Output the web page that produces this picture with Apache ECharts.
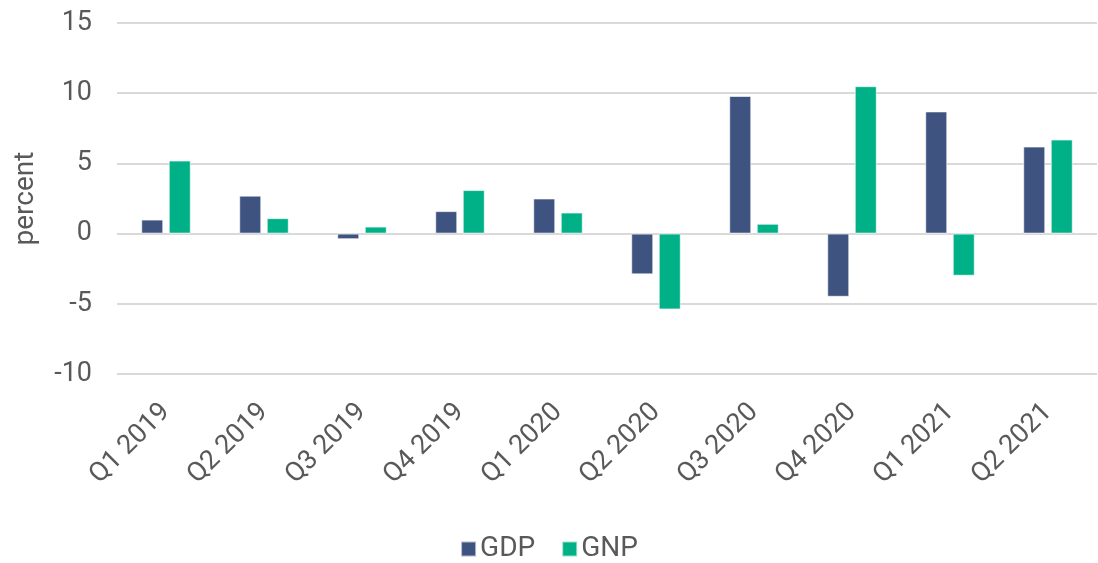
<!DOCTYPE html>
<html>
<head>
<meta charset="utf-8">
<script src="https://cdn.jsdelivr.net/npm/echarts@6/dist/echarts.min.js"></script>
<style>
  html, body { margin: 0; padding: 0; background: #fff; }
  #chart { width: 1098px; height: 563px; }
</style>
</head>
<body>
<div id="chart"></div>
<script>
// quarters on the x axis
const quarters = ['Q1 2019', 'Q2 2019', 'Q3 2019', 'Q4 2019', 'Q1 2020',
  'Q2 2020', 'Q3 2020', 'Q4 2020', 'Q1 2021', 'Q2 2021'];
// growth rates, percent
const gdp = [1.0, 2.7, -0.4, 1.6, 2.5, -2.9, 9.8, -4.5, 8.7, 6.2];
const gnp = [5.2, 1.1, 0.5, 3.1, 1.5, -5.4, 0.7, 10.5, -3.0, 6.7];

const chart = echarts.init(document.getElementById('chart'));

const option = {
  animation: false,
  textStyle: { fontFamily: 'Roboto' },
  color: ['#3F5380', '#00B087'],
  grid: {
    left: 117,
    right: 1,
    top: 23,
    bottom: 189
  },
  legend: {
    bottom: 0,
    left: 'center',
    padding: 0,
    icon: 'rect',
    itemWidth: 15,
    itemHeight: 15,
    itemGap: 26,
    textStyle: { fontSize: 28, color: '#595959', padding: [0, 0, 0, -1] },
    data: ['GDP', 'GNP']
  },
  xAxis: {
    type: 'category',
    data: quarters,
    axisLine: { show: false },
    axisTick: { show: false },
    axisLabel: {
      rotate: 45,
      margin: 34,
      fontSize: 27,
      color: '#595959',
      interval: 0
    }
  },
  yAxis: {
    type: 'value',
    min: -10,
    max: 15,
    interval: 5,
    name: 'percent',
    nameLocation: 'middle',
    nameGap: 77,
    nameTextStyle: { fontSize: 28, color: '#595959' },
    axisLine: { show: false },
    axisTick: { show: false },
    axisLabel: { fontSize: 27, color: '#595959', margin: 25 },
    splitLine: { lineStyle: { color: '#d9d9d9', width: 2 } }
  },
  series: [
    {
      name: 'GDP',
      type: 'bar',
      data: gdp,
      barWidth: 22,
      barGap: '25%',
      itemStyle: { borderColor: 'rgba(255,255,255,0.6)', borderWidth: 1 }
    },
    {
      name: 'GNP',
      type: 'bar',
      data: gnp,
      barWidth: 22,
      itemStyle: { borderColor: 'rgba(255,255,255,0.6)', borderWidth: 1 }
    }
  ]
};

chart.setOption(option);
</script>
</body>
</html>
